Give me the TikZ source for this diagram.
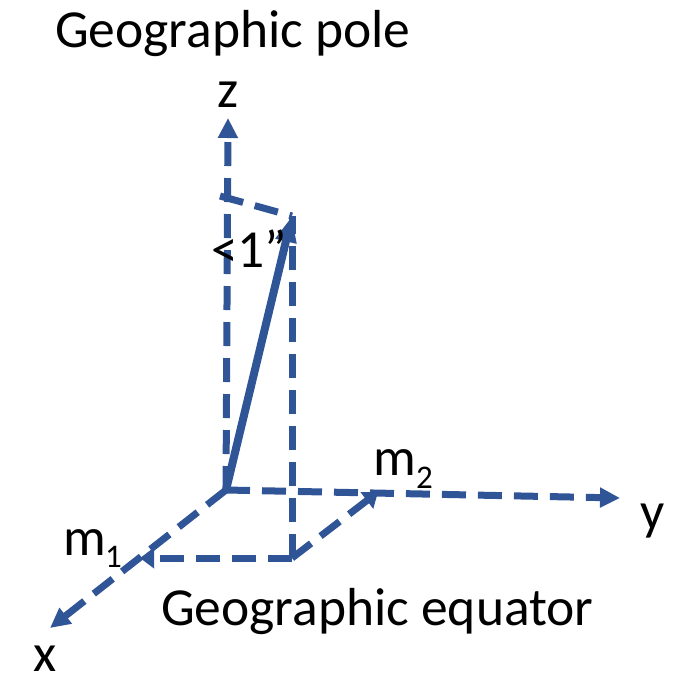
\documentclass[tikz,border=0pt]{standalone}
\usepackage{fontspec}
\setmainfont{Carlito}
\usetikzlibrary{arrows.meta}
\definecolor{ax}{RGB}{47,85,151}
\begin{document}
\begin{tikzpicture}[x=1pt,y=-1pt,
 dline/.style={draw=ax, line width=7pt, dash pattern=on 24pt off 12pt},
 bigtip/.style={-{Triangle[length=20pt,width=19pt]}},
 smalltip/.style={-{Triangle[length=14pt,width=20pt]}},
 lbl/.style={font=\fontsize{53.5}{60}\selectfont, inner sep=0pt, anchor=base west},
 sub/.style={font=\fontsize{33}{36}\selectfont, inner sep=0pt, anchor=base west}]
\useasboundingbox (0,0) rectangle (682,678);
\coordinate (O) at (226,490);
\coordinate (Z) at (228,118);
\coordinate (X) at (50,628);
\coordinate (Y) at (620,498);
\coordinate (M1) at (140,558);
\coordinate (M2) at (378,492);
\coordinate (P) at (292,558);
\coordinate (T) at (292,216);
\coordinate (TL) at (220,196);
% axes
\draw[dline,bigtip] (O) -- (Z);
\draw[dline,bigtip] (O) -- (X);
\draw[dline,bigtip] (O) -- (Y);
% projections
\draw[dline] (TL) -- (T);
\draw[dline] (P) -- (T);
\draw[dline,smalltip] (P) -- (M1);
\draw[dline,smalltip] (P) -- (M2);
% vector
\draw[draw=ax, line width=8pt, -{Triangle[length=26pt,width=20pt]}] (O) -- (T);
% labels
\node[lbl] (pole) at (55,47) {Geographic pole};
\node[lbl] (eq) at (161,625) {Geographic equator};
\node[lbl,anchor=base] (zl) at (228,107) {z};
\node[lbl] (yl) at (640,529) {y};
\node[lbl] (xl) at (33,671) {x};
\node[lbl] (ang) at (211,267) {<1”};
\node[lbl] (m1) at (63,555) {m};
\node[sub] (m1s) at (105,567) {1};
\node[lbl] (m2) at (373,475) {m};
\node[sub] (m2s) at (416,488) {2};
\end{tikzpicture}
\end{document}
